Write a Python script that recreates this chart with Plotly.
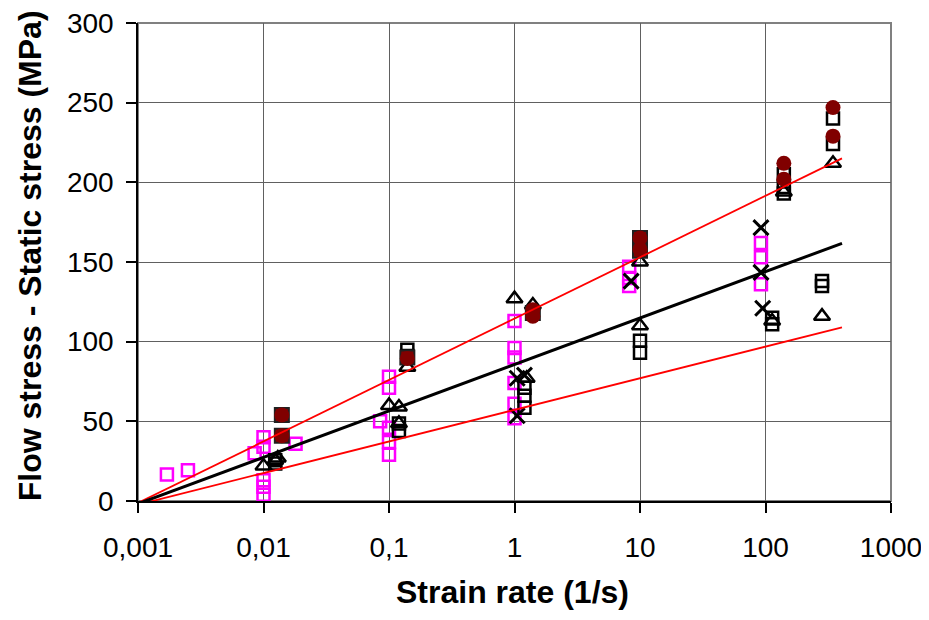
import plotly.graph_objects as go

# ---------------- data ----------------
x_ticks = [0.001, 0.01, 0.1, 1, 10, 100, 1000]
x_tick_labels = ["0,001", "0,01", "0,1", "1", "10", "100", "1000"]
y_ticks = [0, 50, 100, 150, 200, 250, 300]

# magenta open squares
mag_x = [0.0017, 0.0025, 0.01, 0.01, 0.0085, 0.01, 0.01, 0.01, 0.018,
         0.1, 0.1, 0.085, 0.1, 0.1, 0.1,
         1, 1, 1, 1, 1, 1,
         8.2, 8.2, 8.2,
         92, 92, 92]
mag_y = [16.7, 19.3, 40, 34, 30, 13, 9, 4, 36,
         78, 71, 50, 46, 37, 29,
         113, 96, 90, 74, 61, 52,
         147, 140, 135,
         162, 153, 136]

# black open squares
sq_x = [0.0124, 0.0124, 0.014, 0.014, 0.12, 0.12, 0.14, 0.14,
        1.2, 1.2, 1.2, 10, 10, 113, 113, 140, 140, 140, 282, 282, 345, 345]
sq_y = [25.5, 23.5, 54, 41, 48.6, 44, 95, 91,
        71, 66, 58.5, 100.6, 93, 115, 111, 205, 197, 193, 138, 135, 240, 224]

# black open triangles
tri_x = [0.01, 0.0124, 0.013, 0.1, 0.12, 0.12, 0.14, 1, 1.25, 1.4, 10, 10, 113, 140, 282, 345]
tri_y = [22, 25.5, 27, 60, 59, 48.7, 84, 127, 77, 123, 150, 110, 113, 194, 116, 212]

# black crosses
cross_x = [1.05, 1.2, 1.05, 8.5, 92, 92, 95]
cross_y = [77, 79, 53.5, 138, 171.6, 143.5, 121]

# maroon filled squares
msq_x = [0.014, 0.014, 0.14, 1.4, 10, 10]
msq_y = [54, 41, 90, 118, 165, 157]

# maroon filled circles
circ_x = [0.014, 0.014, 0.14, 1.4, 1.4, 10, 10, 140, 140, 345, 345]
circ_y = [54, 41, 89.5, 120, 116, 165, 158, 212, 202, 247, 229]

# fitted lines (endpoints)
fit_x = [0.00087, 407]
fit_black_y = [-3.5, 161.7]
fit_upper_y = [-3.5, 215]
fit_lower_y = [-3.5, 109]

MAGENTA = "#FF00FF"
MAROON = "#800000"

fig = go.Figure()

fig.add_trace(go.Scatter(x=mag_x, y=mag_y, mode="markers",
    marker=dict(symbol="square-open", size=12, color=MAGENTA, line=dict(width=2.5, color=MAGENTA)),
    cliponaxis=False))
fig.add_trace(go.Scatter(x=sq_x, y=sq_y, mode="markers",
    marker=dict(symbol="square-open", size=12, color="black", line=dict(width=2.5, color="black")),
    cliponaxis=False))
fig.add_trace(go.Scatter(x=tri_x, y=tri_y, mode="markers",
    marker=dict(symbol="triangle-up-open", size=14, color="black", line=dict(width=2.5, color="black")),
    cliponaxis=False))
fig.add_trace(go.Scatter(x=cross_x, y=cross_y, mode="markers",
    marker=dict(symbol="x-thin-open", size=15, color="black", line=dict(width=3, color="black")),
    cliponaxis=False))
fig.add_trace(go.Scatter(x=msq_x, y=msq_y, mode="markers",
    marker=dict(symbol="square", size=14, color=MAROON, line=dict(width=2, color="#202020")),
    cliponaxis=False))
fig.add_trace(go.Scatter(x=circ_x, y=circ_y, mode="markers",
    marker=dict(symbol="circle", size=15, color=MAROON, line=dict(width=0)),
    cliponaxis=False))

fig.add_trace(go.Scatter(x=fit_x, y=fit_upper_y, mode="lines", line=dict(color="red", width=1.8)))
fig.add_trace(go.Scatter(x=fit_x, y=fit_lower_y, mode="lines", line=dict(color="red", width=1.8)))
fig.add_trace(go.Scatter(x=fit_x, y=fit_black_y, mode="lines", line=dict(color="black", width=3)))

font_family = "Liberation Sans, Arial, sans-serif"

# page body has an 8px margin, so the figure is 8px smaller than the window
fig.update_layout(
    width=921, height=612,
    margin=dict(l=130, r=38, t=15, b=119, autoexpand=False),
    paper_bgcolor="white", plot_bgcolor="white",
    showlegend=False,
    font=dict(family=font_family, color="black", size=28),
)

fig.update_xaxes(
    type="log", range=[-3, 3], automargin=False,
    tickvals=x_ticks, ticktext=x_tick_labels,
    showgrid=True, gridcolor="#606060", gridwidth=1,
    showline=True, linecolor="black", linewidth=1.5,
    ticks="outside", ticklen=10, tickcolor="black", tickwidth=1.5,
    ticklabelstandoff=11, ticklabeloverflow="allow",
    tickfont=dict(size=28, family=font_family),
    zeroline=False,
)
fig.update_yaxes(
    range=[0, 300], tickvals=y_ticks, automargin=False,
    showgrid=True, gridcolor="#606060", gridwidth=1,
    showline=True, linecolor="black", linewidth=1.5,
    ticks="outside", ticklen=10, tickcolor="black", tickwidth=1.5,
    ticklabelstandoff=7, ticklabeloverflow="allow",
    tickfont=dict(size=28, family=font_family),
    zeroline=False,
)

# axis titles
fig.add_annotation(text="<b>Strain rate (1/s)</b>", xref="paper", yref="paper",
                   x=0.498, y=-0.19, xanchor="center", yanchor="middle", showarrow=False,
                   font=dict(size=32, family=font_family, color="black"))
fig.add_annotation(text="<b>Flow stress - Static stress (MPa)</b>", xref="paper", yref="paper",
                   x=-0.1434, y=0.512, xanchor="center", yanchor="middle", showarrow=False,
                   textangle=-90,
                   font=dict(size=32, family=font_family, color="black"))

# top & right border (gray)
fig.add_shape(type="rect", xref="paper", yref="paper", x0=0, y0=0, x1=1, y1=1,
              line=dict(color="#808080", width=2), layer="below")

fig.write_html("out.html")
